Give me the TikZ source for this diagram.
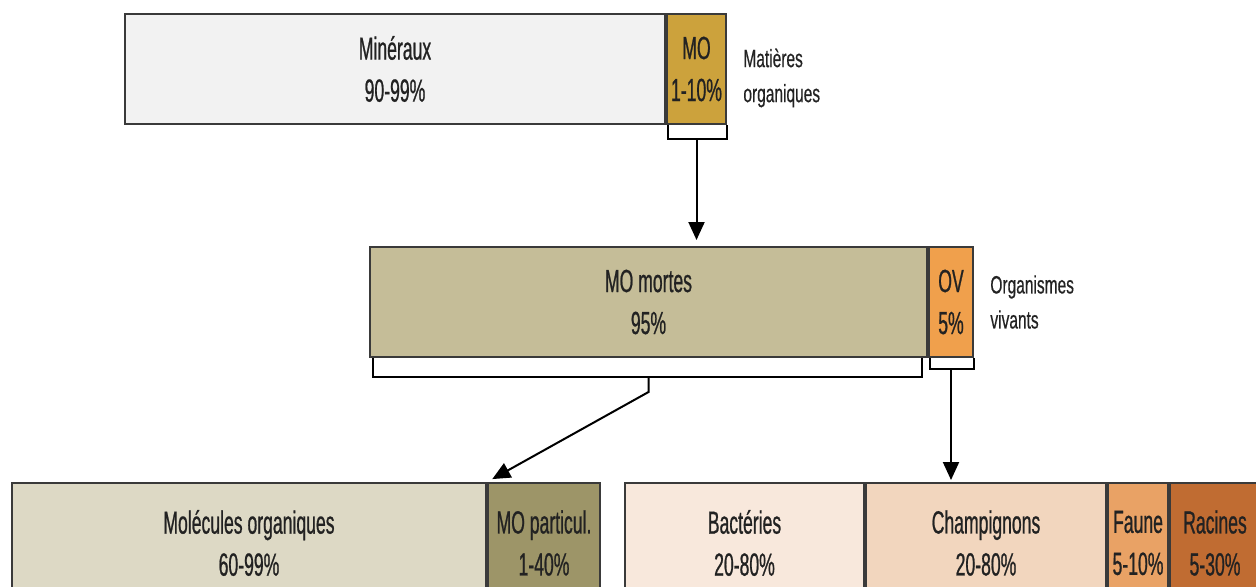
\documentclass[tikz,border=0pt]{standalone}
\usepackage{fontspec}
\setmainfont[FakeStretch=0.55, FakeBold=0.7]{Liberation Sans}
\newfontfamily\sidefont[FakeStretch=0.62, FakeBold=0.4]{Liberation Sans}
\usepackage{tikz}
\usetikzlibrary{arrows.meta, positioning, calc}
\definecolor{BarLine}{HTML}{3A3A3A}
\definecolor{BarText}{HTML}{222222}
\definecolor{MinFill}{HTML}{F2F2F2}
\definecolor{MOFill}{HTML}{CCA23C}
\definecolor{MortFill}{HTML}{C5BD98}
\definecolor{OVFill}{HTML}{F0A04C}
\definecolor{MolFill}{HTML}{DDD9C5}
\definecolor{PartFill}{HTML}{9D9568}
\definecolor{BacFill}{HTML}{F8E8DC}
\definecolor{ChaFill}{HTML}{F2D6BE}
\definecolor{FauFill}{HTML}{E9A265}
\definecolor{RacFill}{HTML}{C06C32}

\begin{document}
\begin{tikzpicture}[
  x=0.5pt, y=-0.5pt,
  bar/.style={rectangle, draw=BarLine, line width=1pt, minimum height=55pt, inner sep=0pt, align=center, text=BarText, font=\fontsize{16}{21}\selectfont, execute at begin node={\rule{0pt}{16.5pt}}},
  low/.style={bar, minimum height=60pt},
  side/.style={inner sep=0pt, align=left, text=BarText, font=\sidefont\fontsize{12.5}{17.5}\selectfont},
  brace/.style={draw=black, line width=0.8pt},
  arrow/.style={-{Triangle[width=8pt,length=9pt]}, line width=1pt}
]
\useasboundingbox (0,0) rectangle (1256,586);

\node[bar, fill=MinFill, minimum width=270pt, anchor=north west] (min) at (124,13) {Minéraux\\90-99\%};
\node[bar, fill=MOFill, minimum width=29.5pt, right=0pt of min] (mo) {MO\\1-10\%};
\node[side, right=8pt of mo, yshift=-4.5pt] (mat) {Matières\\organiques};

\node[bar, fill=MortFill, minimum width=278.5pt, anchor=north west] (mort) at (369,246) {MO mortes\\95\%};
\node[bar, fill=OVFill, minimum width=22pt, right=0pt of mort] (ov) {OV\\5\%};
\node[side, right=8pt of ov] (orga) {Organismes\\vivants};

\node[low, fill=MolFill, minimum width=237pt, anchor=north west] (mol) at (11,482) {Molécules organiques\\60-99\%};
\node[low, fill=PartFill, minimum width=56pt, right=0pt of mol] (part) {MO particul.\\1-40\%};
\node[low, fill=BacFill, minimum width=119.5pt, anchor=north west] (bac) at (624,482) {Bactéries\\20-80\%};
\node[low, fill=ChaFill, minimum width=120pt, right=0pt of bac] (cha) {Champignons\\20-80\%};
\node[low, fill=FauFill, minimum width=30pt, right=0pt of cha] (fau) {Faune\\5-10\%};
\node[low, fill=RacFill, minimum width=45pt, right=0pt of fau] (rac) {Racines\\5-30\%};

\coordinate (mobr) at ($(mo.south)+(0,14)$);
\coordinate (mortbr) at ($(mort.south)+(0,19)$);
\coordinate (ovbr) at ($(ov.south)+(0,11)$);

\draw[brace] ([xshift=1pt]mo.south west) -- ++(0,14) -| (mo.south east);
\draw[brace] ([xshift=2pt]mort.south west) -- ++(0,19) -| ([xshift=-3pt]mort.south east);
\draw[brace] ([xshift=1pt]ov.south west) -- ++(0,11) -| (ov.south east);

\draw[arrow, shorten >=3pt] (mobr) -- (mobr |- mort.north);
\draw[arrow, shorten >=3pt] (mortbr) -- ++(0,15) -- (mol.north east);
\draw[arrow, shorten >=1pt] (ovbr) -- (ovbr |- cha.north);
\end{tikzpicture}
\end{document}
